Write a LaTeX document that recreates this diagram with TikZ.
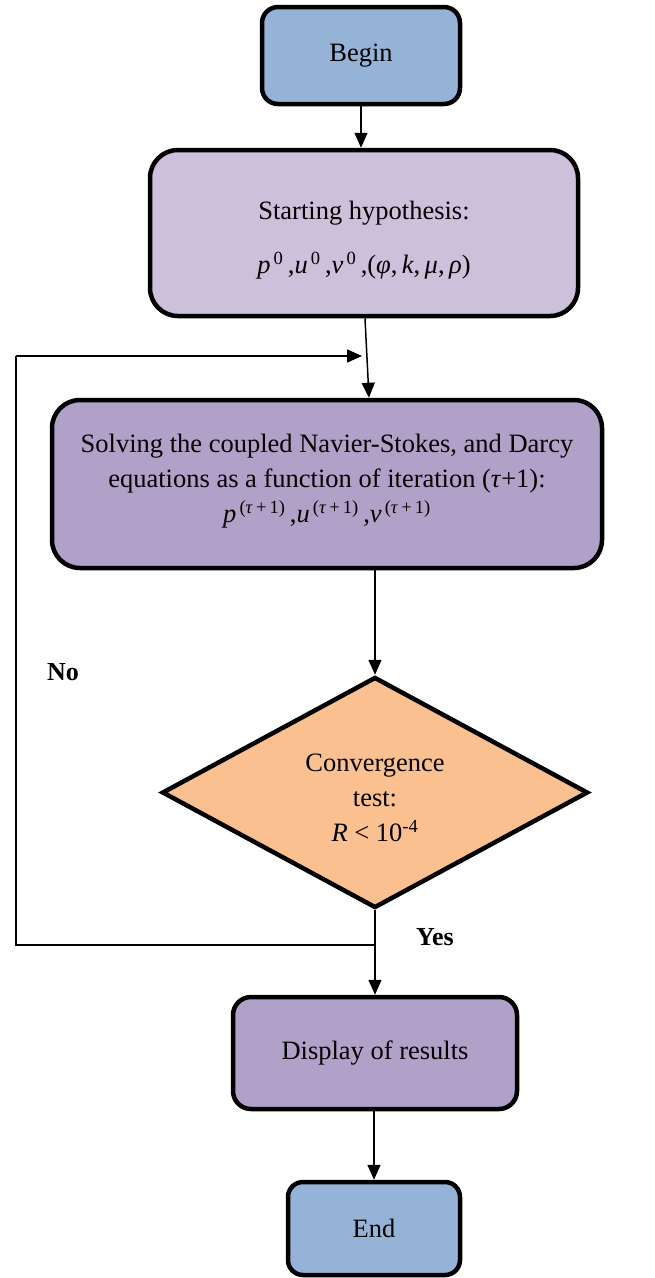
\documentclass[tikz,border=0pt]{standalone}
\usepackage{fontspec}
\setmainfont{Liberation Serif}
\usetikzlibrary{shapes.geometric,arrows.meta}
\definecolor{bluefill}{HTML}{95B3D7}
\definecolor{lilac}{HTML}{CCC0DA}
\definecolor{purp}{HTML}{B1A0C7}
\definecolor{orng}{HTML}{FAC090}
\newcommand{\ssup}[1]{\textsuperscript{\,#1}}
\tikzset{
  box/.style={draw=black, line width=4.5pt, rounded corners=#1, inner sep=0pt, align=center},
  arr/.style={line width=1.5pt, -{Triangle[length=15pt,width=13pt]}},
  plain/.style={line width=1.5pt},
  every node/.append style={font=\fontsize{26.5}{35}\selectfont},
  lbl/.style={font=\fontsize{26}{35}\selectfont\bfseries}
}
\begin{document}
\begin{tikzpicture}[x=1pt,y=-1pt]
\useasboundingbox (0,0) rectangle (654,1278);
\node[box=16pt, fill=bluefill, minimum width=198pt, minimum height=97pt] (begin) at (361,55.5) {Begin};
\node[box=28pt, fill=lilac, minimum width=428pt, minimum height=166pt] (start) at (364,233)
  {Starting hypothesis:\\[19pt] \textit{p}\ssup{0}\,,\textit{u}\ssup{0}\,,\textit{v}\ssup{0}\,,(\textit{φ},\,\textit{k},\,\textit{μ},\,\textit{ρ})\\[-44pt]};
\node[box=28pt, fill=purp, minimum width=550pt, minimum height=168pt] (solve) at (327,484)
  {Solving the coupled Navier-Stokes, and Darcy\\ equations as a function of iteration (\textit{τ}+1):\\
   \textit{p}\ssup{(\textit{τ}\,+\,1)}\,,\textit{u}\ssup{(\textit{τ}\,+\,1)}\,,\textit{v}\ssup{(\textit{τ}\,+\,1)}\\[-23pt]};
\node[diamond, draw=black, line width=4.5pt, fill=orng, inner sep=0pt, minimum width=426pt, minimum height=231pt, align=center] (dia) at (375,792.5)
  {Convergence\\ test:\\ \textit{R} < 10\textsuperscript{-4}\\[-45pt]};
\node[box=18pt, fill=purp, minimum width=284pt, minimum height=112pt] (disp) at (375,1053) {Display of results};
\node[box=15pt, fill=bluefill, minimum width=172pt, minimum height=93pt] (end) at (374,1228.5) {End};

\node[lbl] (no) at (63,672) {No};
\node[lbl] (yes) at (435,937) {Yes};

\coordinate (join) at (375,945);
\coordinate (bl) at (16,945);
\coordinate (tl) at (16,356);
\coordinate (back) at (362,356);

\draw[arr] (begin.south) -- (begin.south |- start.north);
\draw[arr] ([xshift=1pt]start.south) -- ([xshift=42pt]solve.north);
\draw[arr] (dia.north |- solve.south) -- (dia.north);
\draw[arr] (dia.south) -- (disp.north -| dia.south);
\draw[arr] (disp.south -| end.north) -- (end.north);
\draw[plain] (join) -- (bl) -- (tl);
\draw[arr] (tl) -- (back);
\end{tikzpicture}
\end{document}
